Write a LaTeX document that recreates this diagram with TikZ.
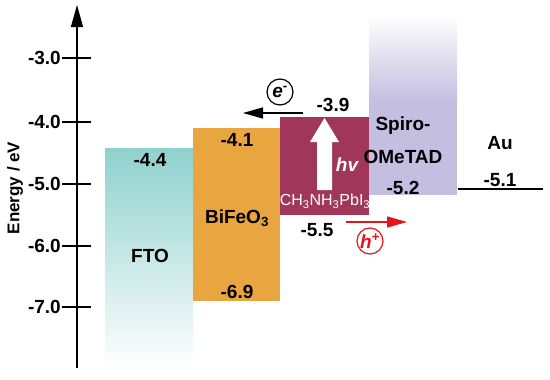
\documentclass[tikz,border=0pt]{standalone}
\usepackage{fontspec}
\setmainfont{Liberation Sans}
\usetikzlibrary{arrows.meta,positioning,calc}
\definecolor{fto}{HTML}{8FD1CD}
\definecolor{bfo}{HTML}{E8A540}
\definecolor{mapi}{HTML}{A0365A}
\definecolor{spiro}{HTML}{C4BEE0}
\definecolor{hole}{HTML}{E3141B}
\newcommand{\lblfont}{\bfseries\fontsize{19}{21}\selectfont}

\begin{document}
\begin{tikzpicture}[
  x=1pt, y=-1pt,
  every node/.style={font=\lblfont, inner sep=0pt},
  tick/.style={line width=1.3pt},
  carrier/.style={circle, draw, line width=1.2pt, minimum size=26pt,
                  font=\lblfont\itshape},
  flow/.style={line width=1.3pt, -{Triangle[length=20pt, width=11pt]}}
]
\useasboundingbox (0,0) rectangle (550,380);

% energy axis
\coordinate (ax-bot) at (77,368);
\coordinate (ax-top) at (77,5);
\draw[line width=1.3pt, -{Triangle[length=22pt, width=12pt]}] (ax-bot) -- (ax-top);
\foreach \e/\yy [count=\i] in {-3.0/58,-4.0/122,-5.0/184,-6.0/246,-7.0/307} {
  \draw[tick] (62,\yy) -- (91,\yy);
  \node[anchor=east] (t\i) at (61,\yy) {\e};
}
\node[rotate=90, font=\bfseries\fontsize{17}{19}\selectfont] (elabel) at (15,188) {Energy / eV};

% bands
\shade[top color=fto, bottom color=white] (105,148) rectangle (193,370);
\fill[bfo] (193,128) rectangle (280,301);
\fill[mapi] (280,117) rectangle (369,215);
\shade[top color=white, bottom color=spiro] (369,15) rectangle (457,101);
\fill[spiro] (369,100) rectangle (457,195);
\coordinate (au-l) at (458,189);
\coordinate (au-r) at (543,189);
\draw[line width=1.3pt] (au-l) -- (au-r);

% photon
\fill[white] (317,190) -- (317,142) -- (310,142) -- (324.5,118)
  -- (339,142) -- (332,142) -- (332,190) -- cycle;

\node (fto-cb)   at (150,160) {-4.4};
\node (fto-name) at (150,256) {FTO};
\node (bfo-cb)   at (237,140) {-4.1};
\node (bfo-name) at (237,218) {BiFeO\textsubscript{3}};
\node (bfo-vb)   at (237,292) {-6.9};
\node (mapi-cb)  at (333,105) {-3.9};
\node (mapi-vb)  at (317,230) {-5.5};
\node[text=white, font=\fontsize{16}{18}\selectfont] (mapi-name) at (325,201)
  {CH\textsubscript{3}NH\textsubscript{3}PbI\textsubscript{3}};
\node[text=white, font=\lblfont\itshape] (hv) at (347,165) {hv};
\node (spiro-a)  at (403,126) {Spiro-};
\node (spiro-b)  at (403,157) {OMeTAD};
\node (spiro-vb) at (403,188) {-5.2};
\node (au-name)  at (500,143) {Au};
\node (au-wf)    at (500,180) {-5.1};

% carriers
\coordinate (e-from) at (303,113);
\coordinate (e-to)   at (243,113);
\draw[flow] (e-from) -- (e-to);
\node[carrier] (e-circ) at (280,92) {e\textsuperscript{-}};
\coordinate (h-from) at (346,222);
\coordinate (h-to)   at (407,222);
\draw[flow, draw=hole, fill=hole] (h-from) -- (h-to);
\node[carrier, draw=hole, text=hole] (h-circ) at (370,241) {h\textsuperscript{+}};
\end{tikzpicture}
\end{document}
